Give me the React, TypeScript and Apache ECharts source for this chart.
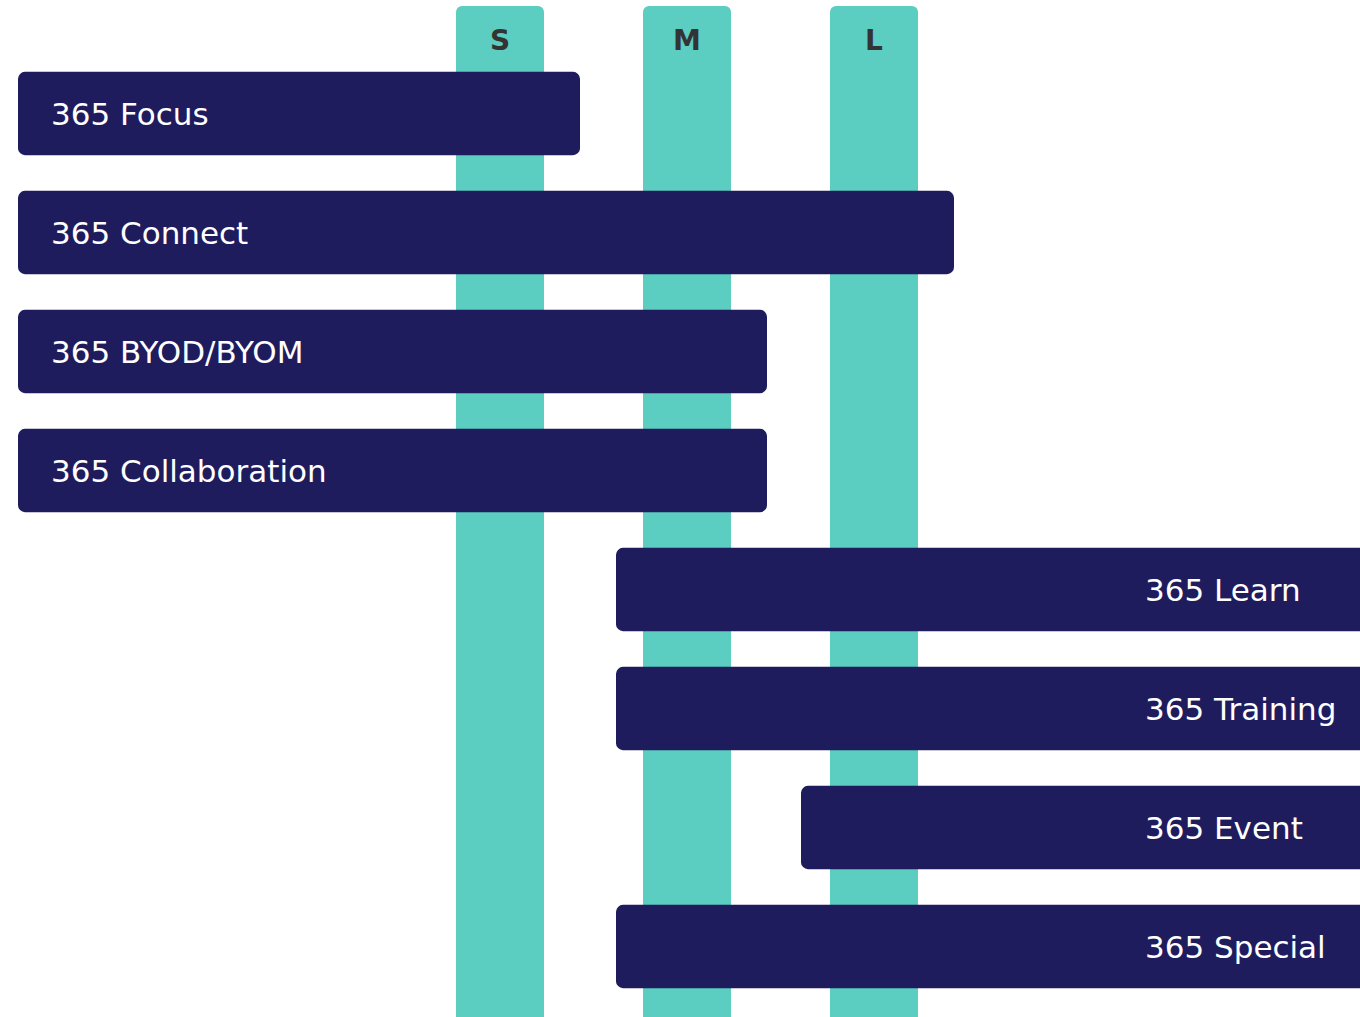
import React, { useEffect, useRef } from "react";
import * as echarts from "echarts";

const categories = [
  "365 Focus",
  "365 Connect",
  "365 BYOD/BYOM",
  "365 Collaboration",
  "365 Learn",
  "365 Training",
  "365 Event",
  "365 Special",
];
const barStart = [1.8, 1.8, 1.8, 1.8, 61.6, 61.6, 80.1, 61.6];
const barEnd = [58.0, 95.4, 76.7, 76.7, 137, 137, 137, 137];

const sizes = ["S", "M", "L"];
const sizeStart = [45.6, 64.3, 83.0];
const sizeEnd = [54.4, 73.1, 91.8];

const NAVY = "#1F1C5E";
const TEAL = "#5BCDC1";
const FONT = "'DejaVu Sans', 'Open Sans', sans-serif";

export default function App() {
  const ref = useRef<HTMLDivElement>(null);
  useEffect(() => {
    if (!ref.current) return;
    const chart = echarts.init(ref.current, undefined, { renderer: "svg" });
    chart.setOption({
      animation: false,
      backgroundColor: "#ffffff",
      grid: { left: 0, right: 0, top: 54, bottom: 11 },
      xAxis: { type: "value", min: 0, max: 136, show: false },
      yAxis: { type: "category", data: categories, inverse: true, show: false },
      series: [
        {
          type: "custom",
          z: 1,
          clip: false,
          data: sizes.map((s, i) => [sizeStart[i], sizeEnd[i], 0, s]),
          encode: { x: [0, 1] },
          renderItem: (params: any, api: any) => {
            const cs = params.coordSys;
            const x1 = api.coord([api.value(0), 0])[0];
            const x2 = api.coord([api.value(1), 0])[0];
            const label = sizes[params.dataIndex];
            return {
              type: "group",
              children: [
                {
                  type: "rect",
                  shape: { x: x1, y: cs.y - 48, width: x2 - x1, height: cs.height + 48 + 40, r: 6 },
                  style: { fill: TEAL },
                },
                {
                  type: "text",
                  style: {
                    text: label,
                    x: (x1 + x2) / 2,
                    y: cs.y - 14,
                    align: "center",
                    verticalAlign: "middle",
                    textAlign: "center",
                    textVerticalAlign: "middle",
                    fontSize: 28,
                    fontWeight: "bold",
                    fontFamily: FONT,
                    fill: "#333333",
                  },
                },
              ],
            };
          },
        },
        {
          type: "custom",
          z: 2,
          clip: false,
          data: categories.map((c, i) => [barStart[i], barEnd[i], i, c]),
          encode: { x: [0, 1], y: 2 },
          renderItem: (params: any, api: any) => {
            const cs = params.coordSys;
            const idx = params.dataIndex;
            const p1 = api.coord([api.value(0), api.value(2)]);
            const p2 = api.coord([api.value(1), api.value(2)]);
            const h = api.size([0, 1])[1] * 0.7;
            const leftAligned = barStart[idx] < 10;
            const tx = leftAligned ? p1[0] + 33 : cs.x + cs.width - 215;
            return {
              type: "group",
              children: [
                {
                  type: "rect",
                  shape: { x: p1[0], y: p1[1] - h / 2, width: p2[0] - p1[0], height: h, r: 7 },
                  style: { fill: NAVY },
                },
                {
                  type: "text",
                  style: {
                    text: categories[idx],
                    x: tx,
                    y: p1[1],
                    align: "left",
                    verticalAlign: "middle",
                    textAlign: "left",
                    textVerticalAlign: "middle",
                    fontSize: 31,
                    fontWeight: "normal",
                    fontFamily: FONT,
                    fill: "#ffffff",
                  },
                },
              ],
            };
          },
        },
      ],
    });
    return () => chart.dispose();
  }, []);
  return (
    <div
      ref={ref}
      style={{ position: "absolute", left: 0, top: 0, width: 1360, height: 1017 }}
    />
  );
}
